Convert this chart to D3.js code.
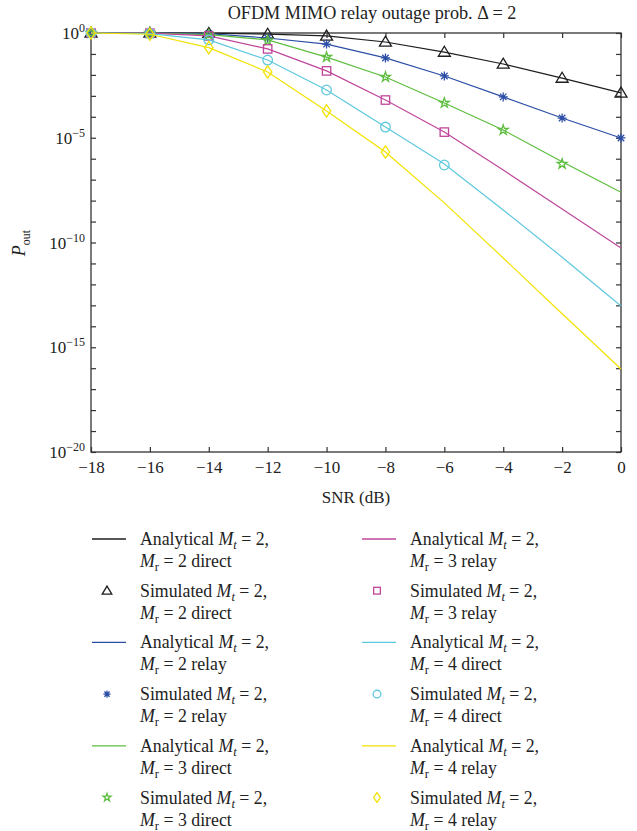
<!DOCTYPE html>
<html>
<head>
<meta charset="utf-8">
<script src="https://cdn.jsdelivr.net/npm/d3@7"></script>
<style>
  body { margin: 0; background: #fff; }
  svg { font-family: "Liberation Serif", "DejaVu Serif", serif; }
</style>
</head>
<body>
<div id="chart"></div>
<script>
// SNR (dB) grid, x tick labels
var snr = [-18, -16, -14, -12, -10, -8, -6, -4, -2, 0];
var yDecades = d3.range(-20, 1); // tick at every decade
var yLabelled = [0, -5, -10, -15, -20];

// analytical curves, log10(P_out) at each snr value
var logMr2Direct = [0, -0.001, -0.01, -0.05, -0.14, -0.43, -0.91, -1.48, -2.15, -2.86];
var logMr2Relay  = [0, -0.003, -0.03, -0.24, -0.53, -1.19, -2.05, -3.05, -4.06, -5.01];
var logMr3Direct = [0, -0.005, -0.08, -0.33, -1.15, -2.10, -3.34, -4.63, -6.15, -7.6];
var logMr3Relay  = [0, -0.01, -0.14, -0.76, -1.81, -3.20, -4.73, -6.54, -8.4, -10.26];
var logMr4Direct = [0, -0.03, -0.33, -1.29, -2.72, -4.49, -6.25, -8.45, -10.7, -13.03];
var logMr4Relay  = [0, -0.06, -0.70, -1.86, -3.72, -5.68, -8.11, -10.74, -13.4, -16.04];

// simulated points (shorter when the sim runs out)
var simMr2Direct = [0, -0.001, -0.01, -0.05, -0.14, -0.43, -0.91, -1.48, -2.15, -2.86];
var simMr2Relay  = [0, -0.003, -0.03, -0.24, -0.53, -1.19, -2.05, -3.05, -4.06, -5.01];
var simMr3Direct = [0, -0.005, -0.08, -0.36, -1.15, -2.10, -3.34, -4.63, -6.25];
var simMr3Relay  = [0, -0.01, -0.14, -0.76, -1.81, -3.20, -4.73];
var simMr4Direct = [0, -0.03, -0.33, -1.29, -2.72, -4.49, -6.3];
var simMr4Relay  = [0, -0.06, -0.70, -1.86, -3.72, -5.68];

var series = [
  {mr: 2, kind: "direct", color: "#1e1e1e", marker: "triangle", line: logMr2Direct, sim: simMr2Direct},
  {mr: 2, kind: "relay",  color: "#2d4ea6", marker: "asterisk", line: logMr2Relay,  sim: simMr2Relay},
  {mr: 3, kind: "direct", color: "#5dbd3f", marker: "star",     line: logMr3Direct, sim: simMr3Direct},
  {mr: 3, kind: "relay",  color: "#bf469b", marker: "square",   line: logMr3Relay,  sim: simMr3Relay},
  {mr: 4, kind: "direct", color: "#5ec8de", marker: "circle",   line: logMr4Direct, sim: simMr4Direct},
  {mr: 4, kind: "relay",  color: "#f2e200", marker: "diamond",  line: logMr4Relay,  sim: simMr4Relay}
];

var width = 637, height = 831;
var plotL = 91, plotR = 621, plotT = 33, plotB = 452;

var svg = d3.select("#chart").append("svg")
    .attr("width", width)
    .attr("height", height);

var x = d3.scaleLinear().domain([-18, 0]).range([plotL, plotR]);
var y = d3.scaleLog().domain([1e-20, 1]).range([plotB, plotT]);

var axisColor = "#333";

// frame
svg.append("rect")
    .attr("x", plotL).attr("y", plotT)
    .attr("width", plotR - plotL).attr("height", plotB - plotT)
    .attr("fill", "none").attr("stroke", axisColor).attr("stroke-width", 1.3);

var tickVals = yDecades.map(function (e) { return Math.pow(10, e); });

var xAxis = svg.append("g")
    .attr("transform", "translate(0," + plotB + ")")
    .call(d3.axisBottom(x).tickValues(snr).tickSize(-5).tickSizeOuter(0).tickPadding(9));
svg.append("g")
    .attr("transform", "translate(0," + plotT + ")")
    .call(d3.axisTop(x).tickValues(snr).tickSize(-5).tickSizeOuter(0).tickFormat(""));
svg.append("g")
    .attr("transform", "translate(" + plotL + ",0)")
    .call(d3.axisLeft(y).tickValues(tickVals).tickSize(-5).tickSizeOuter(0).tickFormat(""));
svg.append("g")
    .attr("transform", "translate(" + plotR + ",0)")
    .call(d3.axisRight(y).tickValues(tickVals).tickSize(-5).tickSizeOuter(0).tickFormat(""));

svg.selectAll(".domain").remove();
svg.selectAll(".tick line").attr("stroke", axisColor).attr("stroke-width", 1.2);
xAxis.selectAll("text")
    .attr("font-family", "Liberation Serif")
    .attr("font-size", 17)
    .attr("fill", "#222");

// y tick labels 10^n
yLabelled.forEach(function (e) {
    var t = svg.append("text")
        .attr("x", 85)
        .attr("y", y(Math.pow(10, e)) + 6)
        .attr("text-anchor", "end")
        .attr("font-size", 17)
        .attr("fill", "#222");
    t.append("tspan").text("10");
    t.append("tspan")
        .attr("dy", -7)
        .attr("font-size", 12)
        .text(e === 0 ? "0" : "\u2212" + (-e));
});

// title and axis labels
svg.append("text")
    .attr("x", 372).attr("y", 19)
    .attr("text-anchor", "middle")
    .attr("font-size", 18.2)
    .attr("fill", "#222")
    .text("OFDM MIMO relay outage prob. \u0394 = 2");

svg.append("text")
    .attr("x", (plotL + plotR) / 2).attr("y", 503)
    .attr("text-anchor", "middle")
    .attr("font-family", "Liberation Serif")
    .attr("font-size", 17)
    .attr("fill", "#222")
    .text("SNR (dB)");

var yl = svg.append("text")
    .attr("transform", "translate(25,243) rotate(-90)")
    .attr("text-anchor", "middle")
    .attr("font-size", 18)
    .attr("fill", "#222");
yl.append("tspan").attr("font-style", "italic").text("P");
yl.append("tspan").attr("dy", 5).attr("font-size", 12).text("out");

// markers
function drawMarker(g, type, cx, cy, s, color) {
    var m;
    if (type === "triangle") {
        m = g.append("path").attr("d", "M0," + (-s * 0.58) + "L" + (s * 0.6) + "," + (s * 0.42) + "L" + (-s * 0.6) + "," + (s * 0.42) + "Z");
    } else if (type === "asterisk") {
        var r = s * 0.45, d = r * 0.72;
        m = g.append("path").attr("d",
            "M" + (-r) + ",0L" + r + ",0M0," + (-r) + "L0," + r +
            "M" + (-d) + "," + (-d) + "L" + d + "," + d + "M" + (-d) + "," + d + "L" + d + "," + (-d));
    } else if (type === "star") {
        m = g.append("path").attr("d", d3.symbol(d3.symbolStar, s * s * 0.3)());
    } else if (type === "square") {
        var h = s * 0.42;
        m = g.append("rect").attr("x", -h).attr("y", -h).attr("width", 2 * h).attr("height", 2 * h);
    } else if (type === "circle") {
        m = g.append("circle").attr("r", s * 0.48);
    } else {
        m = g.append("path").attr("d", "M0," + (-s * 0.62) + "L" + (s * 0.42) + ",0L0," + (s * 0.62) + "L" + (-s * 0.42) + ",0Z");
    }
    m.attr("transform", "translate(" + cx + "," + cy + ")")
        .attr("fill", "none")
        .attr("stroke", color)
        .attr("stroke-width", 1.3);
}

var line = d3.line()
    .x(function (d, i) { return x(snr[i]); })
    .y(function (d) { return y(Math.pow(10, d)); });

var plot = svg.append("g");
series.forEach(function (s) {
    plot.append("path")
        .datum(s.line)
        .attr("d", line)
        .attr("fill", "none")
        .attr("stroke", s.color)
        .attr("stroke-width", 1.2);
    s.sim.forEach(function (v, i) {
        drawMarker(plot, s.marker, x(snr[i]), y(Math.pow(10, v)), 10, s.color);
    });
});

// legend
var legendRows = [];
series.forEach(function (s) {
    legendRows.push({s: s, label: "Analytical", isLine: true});
    legendRows.push({s: s, label: "Simulated", isLine: false});
});

function legendText(g, tx, ty, row) {
    var t1 = g.append("text").attr("x", tx).attr("y", ty + 6).attr("font-size", 17.8).attr("fill", "#222");
    t1.append("tspan").text(row.label + " ");
    t1.append("tspan").attr("font-style", "italic").text("M");
    t1.append("tspan").attr("font-style", "italic").attr("font-size", 12.5).attr("dy", 4).text("t");
    t1.append("tspan").attr("dy", -4).text(" = 2,");
    var t2 = g.append("text").attr("x", tx).attr("y", ty + 28).attr("font-size", 17.8).attr("fill", "#222");
    t2.append("tspan").attr("font-style", "italic").text("M");
    t2.append("tspan").attr("font-size", 12.5).attr("dy", 4).text("r");
    t2.append("tspan").attr("dy", -4).text(" = " + row.s.mr + " " + row.s.kind);
}

var legend = svg.append("g");
legendRows.forEach(function (row, i) {
    var col = Math.floor(i / 6), k = i % 6;
    var lx = col === 0 ? 92 : 362;
    var ly = 539 + k * 51.7;
    if (row.isLine) {
        legend.append("line")
            .attr("x1", lx).attr("x2", lx + 34)
            .attr("y1", ly).attr("y2", ly)
            .attr("stroke", row.s.color).attr("stroke-width", 1.3);
    } else {
        drawMarker(legend, row.s.marker, lx + 15, ly, 8, row.s.color);
    }
    legendText(legend, lx + 48, ly, row);
});
</script>
</body>
</html>
